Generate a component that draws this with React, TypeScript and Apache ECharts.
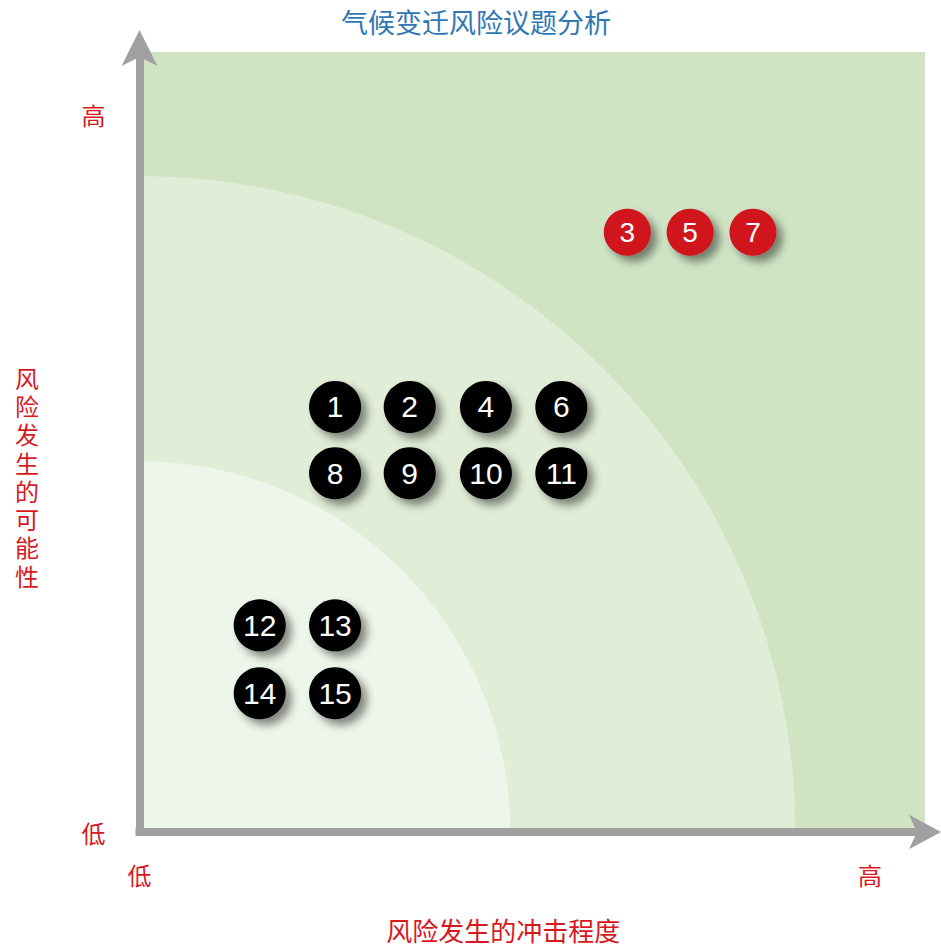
import React, { useEffect, useRef } from "react";
import * as echarts from "echarts";

const titleText = "气候变迁风险议题分析";
const xAxisName = "风险发生的冲击程度";
const yAxisName = "风险发生的可能性";

const xTickValues = [0, 93];
const yTickValues = [0, 92];
const tickLabels = ["低", "高"];

// risk zones: radius (in axis units) and fill
const zoneRadius = [83.5, 47.2];
const zoneColors = ["#e0edd7", "#eef5ea"];

const blackIds = ["1", "2", "4", "6", "8", "9", "10", "11", "12", "13", "14", "15"];
const blackX = [24.9, 34.4, 44.1, 53.7, 24.9, 34.4, 44.1, 53.7, 15.3, 24.9, 15.3, 24.9];
const blackY = [54.5, 54.5, 54.5, 54.5, 46.0, 46.0, 46.0, 46.0, 26.5, 26.5, 17.8, 17.8];

const redIds = ["3", "5", "7"];
const redX = [62.1, 70.1, 78.1];
const redY = [76.9, 76.9, 76.9];

export default function App() {
  const ref = useRef<HTMLDivElement>(null);
  useEffect(() => {
    document.body.style.margin = "0";
    document.body.style.overflow = "hidden";
    const chart = echarts.init(ref.current!, undefined, { renderer: "svg" });
    const red = "#d7191f";
    const axisColor = "#a0a0a0";
    const shadow = {
      shadowBlur: 9,
      shadowOffsetX: 6,
      shadowOffsetY: 6,
      shadowColor: "rgba(0,0,0,0.45)",
    };
    chart.setOption({
      animation: false,
      title: {
        text: titleText,
        left: 336,
        top: 3,
        textStyle: {
          color: "#2f78b4",
          fontSize: 27,
          fontWeight: "normal",
          fontFamily: "Noto Sans CJK SC",
        },
      },
      graphic: [
        {
          type: "text",
          left: 15,
          top: 363,
          style: {
            text: yAxisName.split("").join("\n"),
            fill: red,
            fontSize: 24,
            lineHeight: 28.3,
            fontFamily: "Noto Sans CJK SC",
          },
        },
      ],
      grid: {
        left: 139.5,
        width: 785.5,
        top: 52,
        height: 784.5,
        show: true,
        borderWidth: 0,
        backgroundColor: "#d0e4c4",
      },
      xAxis: {
        type: "value",
        min: 0,
        max: 100,
        interval: xTickValues[1],
        z: 10,
        splitLine: { show: false },
        axisTick: { show: false },
        axisLine: {
          show: true,
          symbol: ["none", "arrow"],
          symbolSize: [26, 32],
          symbolOffset: [0, 16],
          lineStyle: { color: axisColor, width: 8, cap: "square" },
        },
        axisLabel: {
          margin: 30,
          color: red,
          fontSize: 24,
          fontFamily: "Noto Sans CJK SC",
          formatter: (v: number) => {
            const i = xTickValues.indexOf(v);
            return i >= 0 ? tickLabels[i] : "";
          },
        },
        name: xAxisName,
        nameLocation: "middle",
        nameGap: 84,
        nameTextStyle: {
          color: red,
          fontSize: 26,
          fontFamily: "Noto Sans CJK SC",
          padding: [0, 58, 0, 0],
        },
      },
      yAxis: {
        type: "value",
        min: 0,
        max: 100,
        interval: yTickValues[1],
        z: 10,
        splitLine: { show: false },
        axisTick: { show: false },
        axisLine: {
          show: true,
          symbol: ["none", "arrow"],
          symbolSize: [27, 36],
          symbolOffset: [0, 22],
          lineStyle: { color: axisColor, width: 8, cap: "square" },
        },
        axisLabel: {
          margin: 34,
          color: red,
          fontSize: 24,
          fontFamily: "Noto Sans CJK SC",
          formatter: (v: number) => {
            const i = yTickValues.indexOf(v);
            return i >= 0 ? tickLabels[i] : "";
          },
        },
      },
      series: [
        {
          type: "custom",
          silent: true,
          data: zoneRadius.map((r, i) => [r, i]),
          renderItem: (params: any, api: any) => {
            const r = api.value(0);
            const idx = api.value(1);
            const c = api.coord([0, 0]);
            const rad = api.size([r, 0])[0];
            return {
              type: "sector",
              shape: {
                cx: c[0],
                cy: c[1],
                r: rad,
                r0: 0,
                startAngle: -Math.PI / 2,
                endAngle: 0,
                clockwise: true,
              },
              style: { fill: zoneColors[idx] },
            };
          },
          z: 1,
        },
        {
          type: "scatter",
          symbol: "circle",
          symbolSize: 52,
          data: blackIds.map((id, i) => ({ value: [blackX[i], blackY[i]], name: id })),
          itemStyle: { color: "#000000", opacity: 1, ...shadow },
          label: {
            show: true,
            position: "inside",
            formatter: (p: any) => p.name,
            color: "#ffffff",
            fontSize: 30,
            fontFamily: "Liberation Sans",
          },
          z: 3,
        },
        {
          type: "scatter",
          symbol: "circle",
          symbolSize: 47,
          data: redIds.map((id, i) => ({ value: [redX[i], redY[i]], name: id })),
          itemStyle: { color: "#d0121b", opacity: 1, ...shadow },
          label: {
            show: true,
            position: "inside",
            formatter: (p: any) => p.name,
            color: "#ffffff",
            fontSize: 28,
            fontFamily: "Liberation Sans",
          },
          z: 3,
        },
      ],
    });
    return () => chart.dispose();
  }, []);
  return <div ref={ref} style={{ width: 941, height: 947 }} />;
}
